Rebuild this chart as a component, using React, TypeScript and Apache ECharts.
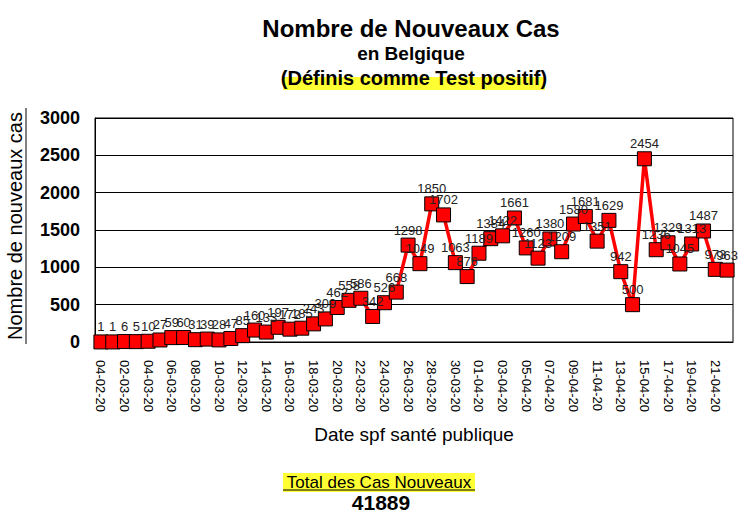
import React, { useEffect, useRef } from "react";
import * as echarts from "echarts";

const dates: string[] = [
  "04-02-20",
  "01-03-20", "02-03-20", "03-03-20", "04-03-20", "05-03-20", "06-03-20", "07-03-20", "08-03-20", "09-03-20", "10-03-20",
  "11-03-20", "12-03-20", "13-03-20", "14-03-20", "15-03-20", "16-03-20", "17-03-20", "18-03-20", "19-03-20", "20-03-20",
  "21-03-20", "22-03-20", "23-03-20", "24-03-20", "25-03-20", "26-03-20", "27-03-20", "28-03-20", "29-03-20", "30-03-20",
  "31-03-20", "01-04-20", "02-04-20", "03-04-20", "04-04-20", "05-04-20", "06-04-20", "07-04-20", "08-04-20", "09-04-20",
  "10-04-20", "11-04-20", "12-04-20", "13-04-20", "14-04-20", "15-04-20", "16-04-20", "17-04-20", "18-04-20", "19-04-20",
  "20-04-20", "21-04-20", "22-04-20",
];

const newCases: number[] = [
  1,
  1, 6, 5, 10, 27, 59, 60, 31, 39, 28,
  47, 85, 160, 133, 197, 172, 185, 243, 309, 462,
  558, 586, 342, 526, 668, 1298, 1049, 1850, 1702, 1063,
  876, 1189, 1384, 1422, 1661, 1260, 1123, 1380, 1209, 1580,
  1681, 1351, 1629, 942, 500, 2454, 1236, 1329, 1045, 1313,
  1487, 973, 963,
];

const yTicks: number[] = [0, 500, 1000, 1500, 2000, 2500, 3000];
const totalCases = "41889";

export default function App() {
  const ref = useRef<HTMLDivElement>(null);
  useEffect(() => {
    if (!ref.current) return;
    document.body.style.margin = "0";
    const chart = echarts.init(ref.current, null, { renderer: "svg" });
    const font = "Arial, 'Liberation Sans', sans-serif";
    chart.setOption({
      animation: false,
      backgroundColor: "#ffffff",
      textStyle: { fontFamily: font },
      grid: {
        left: 95,
        right: 7,
        top: 118,
        bottom: 183,
        show: true,
        borderColor: "#000",
        borderWidth: 1,
        containLabel: false,
      },
      xAxis: {
        type: "category",
        data: dates,
        boundaryGap: true,
        axisLine: { show: true, lineStyle: { color: "#000", width: 1 } },
        axisTick: { show: false },
        axisLabel: {
          interval: 1,
          rotate: -90,
          color: "#000",
          fontSize: 13,
          fontFamily: font,
          margin: 18,
        },
        name: "Date spf santé publique",
        nameLocation: "middle",
        nameGap: 83,
        nameTextStyle: { fontSize: 19, color: "#000", fontFamily: font },
      },
      yAxis: {
        type: "value",
        min: yTicks[0],
        max: yTicks[yTicks.length - 1],
        interval: 500,
        axisLine: { show: true, lineStyle: { color: "#000" } },
        axisTick: { show: false },
        splitLine: { show: true, lineStyle: { color: "#000", width: 1 } },
        axisLabel: {
          color: "#000",
          fontSize: 18,
          fontWeight: "bold",
          fontFamily: font,
          margin: 15,
          formatter: (v: number) => String(v),
        },
      },
      graphic: [
        {
          type: "text",
          x: 411,
          y: 28,
          style: { text: "Nombre de Nouveaux Cas", fill: "#000", font: `bold 24px ${font}`, align: "center", verticalAlign: "middle" },
        },
        {
          type: "text",
          x: 411,
          y: 53,
          style: { text: "en Belgique", fill: "#000", font: `bold 19px ${font}`, align: "center", verticalAlign: "middle" },
        },
        {
          type: "rect",
          shape: { x: 283, y: 77, width: 262, height: 13 },
          style: { fill: "#ffff33" },
        },
        {
          type: "text",
          x: 414,
          y: 78,
          style: { text: "(Définis comme Test positif)", fill: "#000", font: `bold 20px ${font}`, align: "center", verticalAlign: "middle" },
        },
        {
          type: "text",
          x: 15,
          y: 226,
          rotation: Math.PI / 2,
          style: {
            text: "Nombre de nouveaux cas",
            fill: "#000",
            font: `20px ${font}`,
            align: "center",
            verticalAlign: "middle",
          },
        },
        {
          type: "line",
          shape: { x1: 26, y1: 108, x2: 26, y2: 344 },
          style: { stroke: "#000", lineWidth: 1 },
        },
        {
          type: "rect",
          shape: { x: 283, y: 473, width: 192, height: 19 },
          style: { fill: "#ffff33" },
        },
        {
          type: "text",
          x: 379,
          y: 482,
          style: { text: "Total des Cas Nouveaux", fill: "#000", font: `17px ${font}`, align: "center", verticalAlign: "middle" },
        },
        {
          type: "line",
          shape: { x1: 283, y1: 490, x2: 475, y2: 490 },
          style: { stroke: "#000", lineWidth: 1 },
        },
        {
          type: "text",
          x: 381,
          y: 502,
          style: { text: totalCases, fill: "#000", font: `bold 21px ${font}`, align: "center", verticalAlign: "middle" },
        },
      ],
      series: [
        {
          type: "line",
          data: newCases,
          symbol: "rect",
          symbolSize: 14,
          showAllSymbol: true,
          lineStyle: { color: "#ff0000", width: 3.5 },
          itemStyle: { color: "#ff0000", borderColor: "#000", borderWidth: 1 },
          label: {
            show: true,
            position: "top",
            distance: 1,
            color: "#222",
            fontSize: 13,
            fontFamily: font,
          },
          labelLayout: { hideOverlap: false },
          z: 3,
        },
      ],
    });
    return () => chart.dispose();
  }, []);
  return <div ref={ref} style={{ width: 740, height: 525 }} />;
}
